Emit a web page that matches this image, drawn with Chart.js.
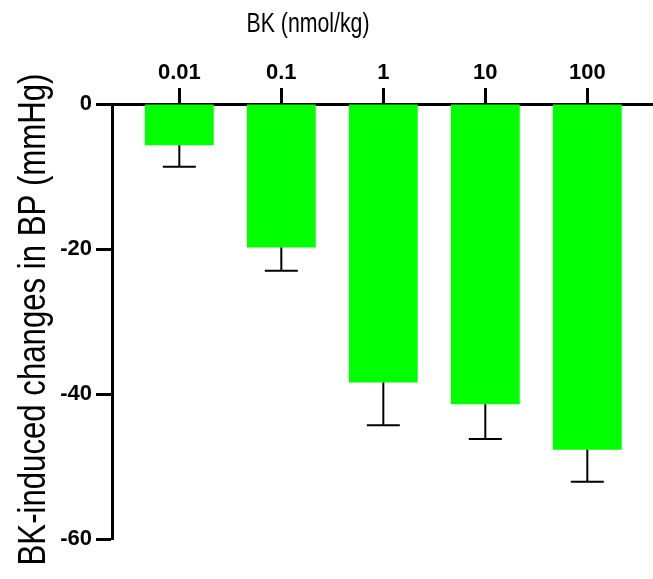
<!DOCTYPE html>
<html>
<head>
<meta charset="utf-8">
<script src="https://cdn.jsdelivr.net/npm/chart.js@4.4.1/dist/chart.umd.min.js"></script>
<style>
  html, body { margin: 0; padding: 0; background: #fff; }
  #wrap { width: 653px; height: 579px; }
</style>
</head>
<body>
<div id="wrap"><canvas id="chart"></canvas></div>
<script>
// BK dose (nmol/kg) and change in blood pressure (mmHg)
const doses = ['0.01', '0.1', '1', '10', '100'];
const meanChange = [-5.7, -19.8, -38.4, -41.4, -47.7];
const semChange = [2.95, 3.2, 5.9, 4.8, 4.4];
const yTicks = [0, -20, -40, -60];

const sans = "'Liberation Sans', Arial, sans-serif";

// error bars drawn downward only, from the bar end
const errorBars = {
    id: 'errorBars',
    afterDatasetsDraw(chart) {
        const { ctx, scales: { x, y } } = chart;
        ctx.save();
        ctx.strokeStyle = '#000';
        ctx.lineWidth = 2;
        meanChange.forEach((m, i) => {
            const px = x.getPixelForValue(i);
            const top = y.getPixelForValue(m);
            const bot = y.getPixelForValue(m - semChange[i]);
            ctx.beginPath();
            ctx.moveTo(px, top);
            ctx.lineTo(px, bot);
            ctx.moveTo(px - 16.5, bot);
            ctx.lineTo(px + 16.5, bot);
            ctx.stroke();
        });
        ctx.restore();
    }
};

// axis titles in a condensed face (squeezed horizontally)
const axisTitles = {
    id: 'axisTitles',
    afterDraw(chart) {
        const ctx = chart.ctx;
        const yMid = (chart.chartArea.top + chart.chartArea.bottom) / 2;
        ctx.save();
        ctx.fillStyle = '#000';
        ctx.textAlign = 'center';
        ctx.textBaseline = 'alphabetic';

        ctx.save();
        ctx.translate(308, 32);
        ctx.scale(0.76, 1);
        ctx.font = '28px ' + sans;
        ctx.fillText('BK (nmol/kg)', 0, 0);
        ctx.restore();

        ctx.save();
        ctx.translate(45, yMid - 2);
        ctx.rotate(-Math.PI / 2);
        ctx.scale(0.82, 1);
        ctx.font = '38px ' + sans;
        ctx.fillText('BK-induced changes in BP (mmHg)', 0, 0);
        ctx.restore();

        ctx.restore();
    }
};

new Chart(document.getElementById('chart'), {
    type: 'bar',
    data: {
        datasets: [{
            data: meanChange.map((v, i) => ({ x: i, y: v })),
            backgroundColor: '#00ff00',
            borderWidth: 0,
            barPercentage: 0.675,
            categoryPercentage: 1
        }]
    },
    options: {
        responsive: true,
        maintainAspectRatio: false,
        animation: false,
        layout: { padding: { top: 0, right: 0, bottom: 40, left: 0 } },
        plugins: { legend: { display: false }, tooltip: { enabled: false } },
        scales: {
            x: {
                type: 'linear',
                position: 'top',
                offset: false,
                min: -0.66,
                max: 4.644,
                afterBuildTicks: axis => { axis.ticks = doses.map((d, i) => ({ value: i })); },
                afterFit: axis => { axis.height = 104; },
                grid: { offset: false, drawOnChartArea: false, color: '#000', tickLength: 16, tickWidth: 3 },
                border: { color: '#000', width: 3 },
                ticks: {
                    color: '#000',
                    padding: 2,
                    font: { family: sans, size: 22, weight: 'bold' },
                    callback: v => doses[v]
                }
            },
            y: {
                min: -60,
                max: 0,
                afterBuildTicks: axis => { axis.ticks = yTicks.map(v => ({ value: v })); },
                afterFit: axis => { axis.width = 112; },
                grid: { drawOnChartArea: false, color: '#000', tickLength: 16, tickWidth: 3 },
                border: { color: '#000', width: 3 },
                ticks: {
                    color: '#000',
                    padding: 4,
                    font: { family: sans, size: 22, weight: 'bold' }
                }
            }
        }
    },
    plugins: [errorBars, axisTitles]
});
</script>
</body>
</html>
